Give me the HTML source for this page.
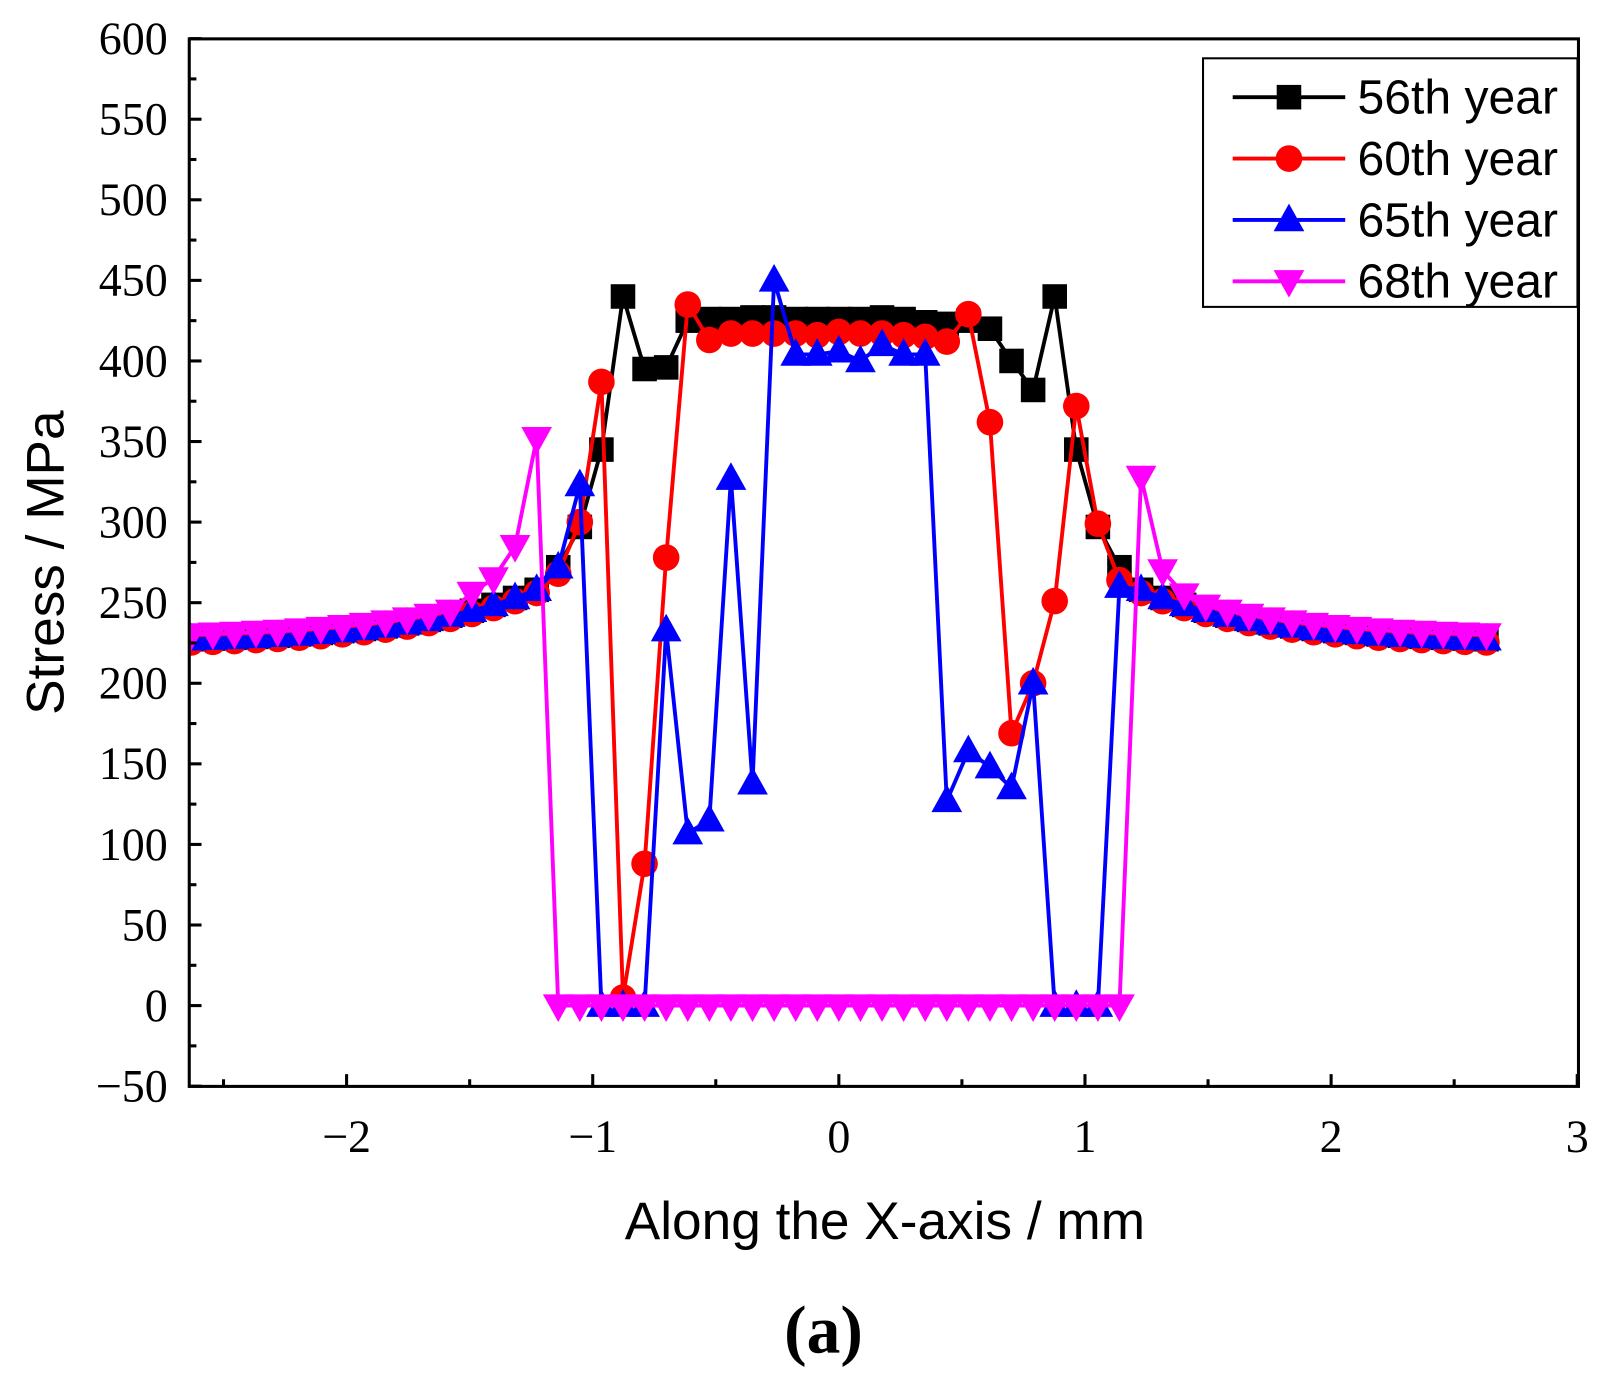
<!DOCTYPE html>
<html><head><meta charset="utf-8"><style>
html,body{margin:0;padding:0;background:#fff;}
svg{display:block;}
</style></head><body>
<svg id="s" width="1602" height="1380" viewBox="0 0 1566 1349" preserveAspectRatio="none" xmlns="http://www.w3.org/2000/svg"></svg>
<script>
const s=document.getElementById('s');
const X=v=>820+v*240.6, Y=v=>983-v*78.77/50;
let h='';
const step=0.0877;
function base(i,off){const a=Math.abs(i);return 225+33*Math.exp(-(a-14)/6)+(off||0);}
function series(mid,off){const o=[];for(let i=-30;i<=30;i++){let v=(mid[i]!==undefined)?mid[i]:base(i,off);o.push([X(i*step),Y(v)]);}return o;}
function mk(arr,start){const m={};arr.forEach((v,k)=>m[start+k]=v);return m;}
const black=series(mk([272,297,345,440,395,396,425,426,426,427,427,426,426,426,426,427,426,424,423,425,420,400,382,440,345,297,272],-13),0);
const red=series(mk([268,300,387,5,88,278,435,413,417,417,417,417,416,418,417,417,416,415,412,429,362,169,200,251,372,299,264],-13),-2);
const blue=series(mk([272,323,0,0,0,233,107,115,327,138,450,404,404,406,400,410,404,404,127,158,148,135,200,0,0,0,260],-13),0);
const mz=[256,265,285,352];for(let k=0;k<27;k++)mz.push(0);mz.push(328,270,255,248);
const mag=series(mk(mz,-17),3);
function line(p,c){h+=`<polyline fill="none" stroke="${c}" stroke-width="3.8" stroke-linejoin="round" points="${p.map(q=>q[0].toFixed(1)+','+q[1].toFixed(1)).join(' ')}"/>`;}
function sq(x,y){return `<rect x="${x-12}" y="${y-12}" width="24" height="24" fill="#000"/>`;}
function ci(x,y){return `<circle cx="${x}" cy="${y}" r="13" fill="#f00"/>`;}
function tu(x,y){return `<polygon points="${x},${y-16} ${x-15},${y+11} ${x+15},${y+11}" fill="#00f"/>`;}
function td(x,y){return `<polygon points="${x},${y+16} ${x-15},${y-11} ${x+15},${y-11}" fill="#f0f"/>`;}
h+='<defs><clipPath id="c"><rect x="185" y="38" width="1358" height="1024"/></clipPath></defs><g clip-path="url(#c)">';
[[black,'#000',sq],[red,'#f00',ci],[blue,'#00f',tu],[mag,'#f0f',td]].forEach(([p,c,f])=>{line(p,c);p.forEach(q=>h+=f(q[0],q[1]));});
h+='</g>';
h+='<rect x="185" y="38" width="1358" height="1024" fill="none" stroke="#000" stroke-width="3"/>';
for(let v=-50;v<=600;v+=25){const y=Y(v);h+=`<line x1="185" x2="${v%50==0?197:192}" y1="${y}" y2="${y}" stroke="#000" stroke-width="3"/>`;
 if(v%50==0)h+=`<text x="164" y="${y+15}" text-anchor="end" font-family="Liberation Serif" font-size="45">${v<0?'\u2212'+(-v):v}</text>`;}
for(let v=-2.5;v<=3;v+=0.5){const x=X(v);h+=`<line y1="1062" y2="${Number.isInteger(v)?1050:1055}" x1="${x}" x2="${x}" stroke="#000" stroke-width="3"/>`;
 if(Number.isInteger(v))h+=`<text x="${x}" y="1126" text-anchor="middle" font-family="Liberation Serif" font-size="45">${v<0?'\u2212'+(-v):v}</text>`;}
h+='<text x="865" y="1211" text-anchor="middle" font-family="Liberation Sans" font-size="52">Along the X-axis / mm</text>';
h+='<text transform="translate(62,550) rotate(-90)" text-anchor="middle" font-family="Liberation Sans" font-size="52">Stress / MPa</text>';
h+='<text x="805" y="1322" text-anchor="middle" font-family="Liberation Serif" font-weight="bold" font-size="66">(a)</text>';
h+='<rect x="1176" y="57" width="366" height="243" fill="#fff" stroke="#000" stroke-width="2"/>';
const L=[['56th year','#000',sq],['60th year','#f00',ci],['65th year','#00f',tu],['68th year','#f0f',td]];
L.forEach(([t,c,f],k)=>{const y=95+k*60;h+=`<line x1="1205" x2="1315" y1="${y}" y2="${y}" stroke="${c}" stroke-width="3.8"/>`+f(1260,y)+`<text x="1327" y="${y+16}" font-family="Liberation Sans" font-size="47">${t}</text>`;});
s.innerHTML=h;
</script>
</body></html>
